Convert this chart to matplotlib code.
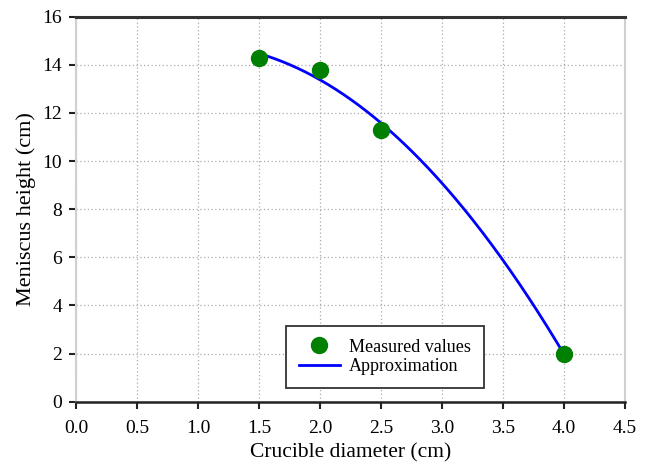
import numpy as np
import matplotlib
matplotlib.use("Agg")
import matplotlib.pyplot as plt

plt.rcParams["font.family"] = ["Liberation Serif", "DejaVu Serif"]

# Measured meniscus heights for each crucible diameter
diameter_cm = [1.5, 2.0, 2.5, 4.0]
meniscus_cm = [14.3, 13.8, 11.3, 2.0]

x_ticks = [0.0, 0.5, 1.0, 1.5, 2.0, 2.5, 3.0, 3.5, 4.0, 4.5]
y_ticks = [0, 2, 4, 6, 8, 10, 12, 14, 16]

# Second-order least-squares approximation of the measurements
coeffs = np.polyfit(diameter_cm, meniscus_cm, 2)
x_fit = np.linspace(min(diameter_cm), max(diameter_cm), 200)
y_fit = np.polyval(coeffs, x_fit)

fig = plt.figure(figsize=(6.48, 4.63), dpi=100)
ax = fig.add_axes([0.1173, 0.1324, 0.8472, 0.8315])

ax.plot(x_fit, y_fit, color="#0000ff", lw=2.0, label="Approximation", zorder=3)
ax.plot(diameter_cm, meniscus_cm, "o", color="#008000", ms=11.5,
        label="Measured values", zorder=4, linestyle="none")

ax.set_xlim(0, 4.5)
ax.set_ylim(0, 16)
ax.set_xticks(x_ticks)
ax.set_xticklabels([f"{v:.1f}" for v in x_ticks])
ax.set_yticks(y_ticks)

ax.grid(True, color="#aaaaaa", linestyle=(0, (1, 2)), linewidth=0.9)
ax.set_axisbelow(True)

for side in ("left", "right"):
    ax.spines[side].set_color("#d0d0d0")
    ax.spines[side].set_linewidth(1.5)
ax.spines["top"].set_color("#333333")
ax.spines["top"].set_linewidth(2.2)
ax.spines["bottom"].set_color("#222222")
ax.spines["bottom"].set_linewidth(1.8)

ax.tick_params(axis="both", direction="out", length=5, width=1.5,
               color="#222222", labelsize=14)
ax.tick_params(axis="y", pad=5)
ax.tick_params(axis="x", pad=8.5)

ax.set_xlabel("Crucible diameter (cm)", fontsize=15.5, labelpad=4.5)
ax.set_ylabel("Meniscus height (cm)", fontsize=16, labelpad=4.5)

handles, labels = ax.get_legend_handles_labels()
leg = ax.legend(handles[::-1], labels[::-1], loc="lower left",
                bbox_to_anchor=(0.3825, 0.0356), borderaxespad=0,
                fontsize=13, fancybox=False, framealpha=1,
                edgecolor="#333333", handlelength=2.3, handletextpad=0.5,
                borderpad=0.7, labelspacing=0.15)
leg.get_frame().set_linewidth(1.3)

fig.savefig("out.png", dpi=100)
